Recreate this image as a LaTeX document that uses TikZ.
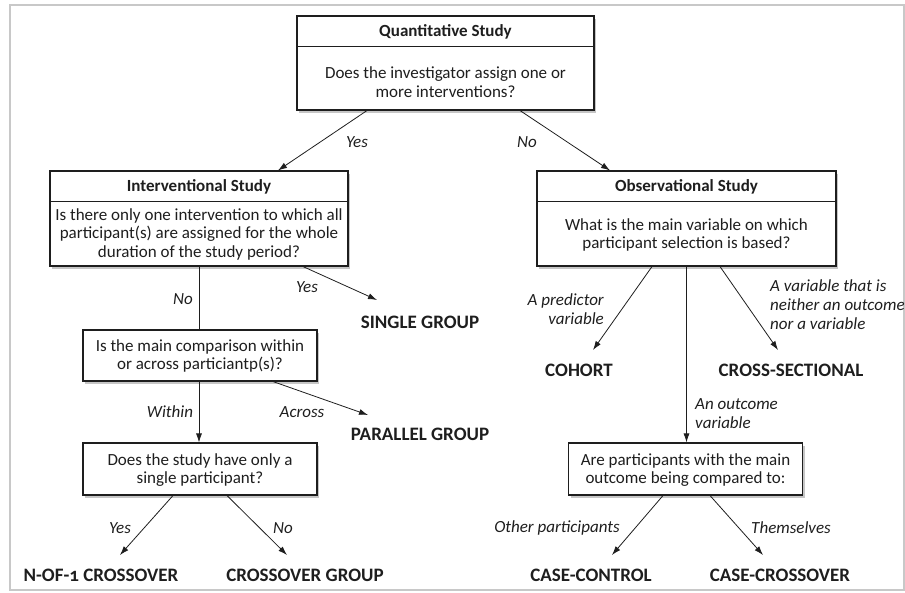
\documentclass[tikz,border=0pt]{standalone}
\usepackage{fontspec}
\setmainfont{Carlito}
\usetikzlibrary{shadows,arrows.meta}
\definecolor{ink}{HTML}{1E1E1E}
\definecolor{framegray}{HTML}{C8C8C8}
\tikzset{
  box/.style={draw=ink, line width=1.1pt, fill=white, inner sep=0pt,
    drop shadow={shadow xshift=2pt, shadow yshift=-3pt, opacity=0.45}},
  hdr/.style={font=\fontsize{17}{18.5}\selectfont\bfseries, text=ink, inner sep=0pt},
  body/.style={font=\fontsize{17}{18.5}\selectfont, align=center, text=ink, inner sep=0pt},
  term/.style={font=\fontsize{19}{21}\selectfont\bfseries, text=ink, inner sep=0pt},
  lbl/.style={font=\fontsize{17}{19}\selectfont\itshape, text=ink, inner sep=0pt},
  arr/.style={draw=ink, line width=0.8pt, -{Latex[length=9pt,width=6pt]}},
  ln/.style={draw=ink, line width=0.8pt},
  divider/.style={draw=ink, line width=1pt},
}
\begin{document}
\begin{tikzpicture}[x=1pt, y=-1pt]
\useasboundingbox (0,0) rectangle (905,593);
\draw[framegray, line width=2pt] (10,5.5) rectangle (903.5,590);

% boxes
\node[box, minimum width=297pt, minimum height=94pt] (q) at (445.5,63) {};
\draw[divider] ([yshift=-31pt]q.north west) -- ([yshift=-31pt]q.north east);
\node[hdr] (qh) at (445.5,32) {Quantitative Study};
\node[body] (qb) at (445.5,82) {Does the investigator assign one or\\more interventions?};

\node[box, minimum width=298pt, minimum height=95pt] (i) at (199,218.5) {};
\draw[divider] ([yshift=-31pt]i.north west) -- ([yshift=-31pt]i.north east);
\node[hdr] (ih) at (199,187) {Interventional Study};
\node[body] (ib) at (199,234) {Is there only one intervention to which all\\participant(s) are assigned for the whole\\duration of the study period?};

\node[box, minimum width=299pt, minimum height=95pt] (o) at (686.5,218.5) {};
\draw[divider] ([yshift=-31pt]o.north west) -- ([yshift=-31pt]o.north east);
\node[hdr] (oh) at (686.5,187) {Observational Study};
\node[body] (ob) at (686.5,235) {What is the main variable on which\\participant selection is based?};

\node[box, minimum width=234pt, minimum height=51pt] (c) at (200,355.5) {};
\node[body] (cb) at (200,356) {Is the main comparison within\\or across particiantp(s)?};

\node[box, minimum width=234pt, minimum height=52pt] (s) at (200,469) {};
\node[body] (sb) at (200,470) {Does the study have only a\\single participant?};

\node[box, minimum width=234pt, minimum height=52pt] (p) at (685.5,469) {};
\node[body] (pb) at (685.5,470) {Are participants with the main\\outcome being compared to:};

% terminals
\node[term] (sg) at (420,322) {SINGLE GROUP};
\node[term] (pg) at (420,434) {PARALLEL GROUP};
\node[term] (co) at (579,370) {COHORT};
\node[term] (cs) at (791,370) {CROSS-SECTIONAL};
\node[term] (n1) at (101,575) {N-OF-{\addfontfeatures{Numbers=OldStyle}1} CROSSOVER};
\node[term] (cg) at (305,575) {CROSSOVER GROUP};
\node[term] (cc) at (591,575) {CASE-CONTROL};
\node[term] (cx) at (780,575) {CASE-CROSSOVER};

% connectors
\draw[arr] ([xshift=-78.5pt]q.south) -- ([xshift=79pt]i.north);
\draw[arr] ([xshift=74.5pt]q.south) -- ([xshift=-76.5pt]o.north);
\draw[arr] ([xshift=104pt]i.south) -- ([xshift=-43pt,yshift=22pt]sg.center);
\draw[ln] (i.south) -- (i.south |- c.north);
\draw[arr] ([xshift=73pt]c.south) -- ([xshift=-52pt,yshift=19pt]pg.center);
\draw[arr] ([xshift=-1pt]c.south) -- ([xshift=-1pt]s.north);
\draw[arr] ([xshift=-27pt]s.south) -- ([xshift=19pt,yshift=20pt]n1.center);
\draw[arr] ([xshift=27pt]s.south) -- ([xshift=-18pt,yshift=20pt]cg.center);
\draw[arr] ([xshift=-34.5pt]o.south) -- ([xshift=14pt,yshift=20pt]co.center);
\draw[arr] ([xshift=33.5pt]o.south) -- ([xshift=-13pt,yshift=20pt]cs.center);
\draw[arr] (o.south) -- (o.south |- p.north);
\draw[arr] ([xshift=-22.5pt]p.south) -- ([xshift=21pt,yshift=20pt]cc.center);
\draw[arr] ([xshift=24.5pt]p.south) -- ([xshift=-17pt,yshift=20pt]cx.center);

% labels
\node[lbl] (l1) at (357,142) {Yes};
\node[lbl] (l2) at (527,142) {No};
\node[lbl] (l3) at (307,287) {Yes};
\node[lbl, anchor=east] (l4) at (193,299) {No};
\node[lbl] (l5) at (302,412) {Across};
\node[lbl] (l6) at (170,412) {Within};
\node[lbl] (l7) at (120,528) {Yes};
\node[lbl] (l8) at (283,528) {No};
\node[lbl, align=right, anchor=east] (l9) at (604,309) {A predictor\\variable};
\node[lbl, align=left, anchor=west] (l10) at (770,305) {A variable that is\\neither an outcome\\nor a variable};
\node[lbl, align=left, anchor=west] (l11) at (695,414) {An outcome\\variable};
\node[lbl] (l12) at (557,528) {Other participants};
\node[lbl] (l13) at (791,528) {Themselves};
\end{tikzpicture}
\end{document}
